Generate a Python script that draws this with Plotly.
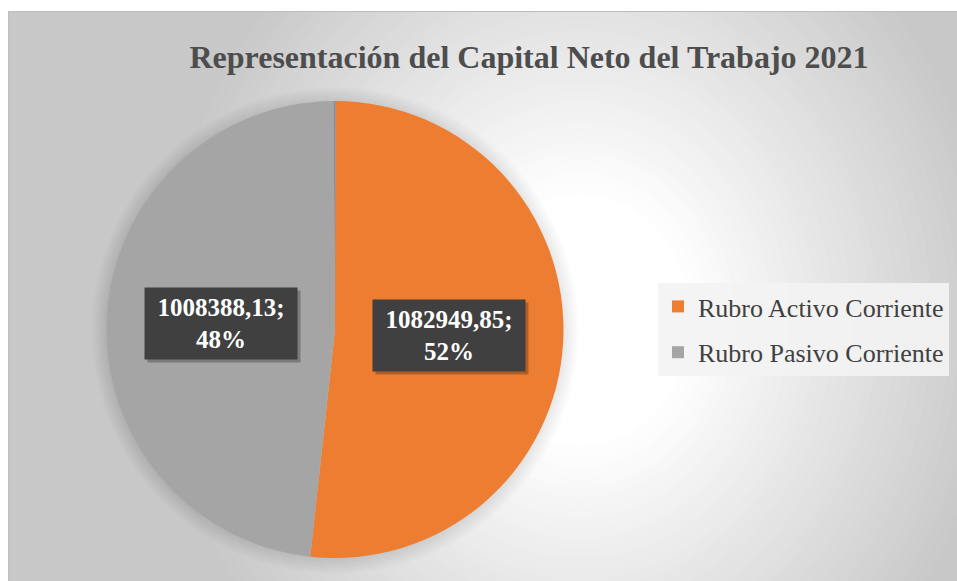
import math
import plotly.graph_objects as go

# ---------------- data ----------------
categories = ["Rubro Activo Corriente", "Rubro Pasivo Corriente"]
values = [1082949.85, 1008388.13]
colors = ["#ED7D31", "#A5A5A5"]
sliver_label = "Otro"
sliver_value = 2200          # tiny blue sliver at 12 o'clock
sliver_color = "#5B9BD5"
title_text = "Representación del Capital Neto del Trabajo 2021"

# ---------------- geometry helpers ----------------
W, H = 957, 581
def px(x):
    return x / W
def py(y):
    return 1 - y / H

PCX, PCY, R = 335.0, 329.5, 228.5   # pie centre / radius in pixels

shapes = []
# chart box base colour
shapes.append(dict(type="rect", xref="paper", yref="paper", layer="below",
                   x0=px(8), x1=px(990), y0=py(610), y1=py(11),
                   fillcolor="#c8c8c8", line=dict(width=0)))
# radial gradient (concentric ellipses)
gcx, gcy, ga, gb = 580.0, 320.0, 420.0, 480.0
def gcol(u):
    f = min(max((u - 0.25) / 0.75, 0.0), 1.0)
    c = int(round(255 - 55 * f))
    return f"rgb({c},{c},{c})"
steps = 40
for k in range(steps):
    u = 1.05 - k * (0.85 / steps)
    if u <= 0:
        break
    shapes.append(dict(type="circle", xref="paper", yref="paper", layer="below",
                       x0=px(gcx - u * ga), x1=px(gcx + u * ga),
                       y0=py(gcy + u * gb), y1=py(gcy - u * gb),
                       fillcolor=gcol(u - 0.85 / steps / 2), line=dict(width=0)))
# white strips outside the chart box (top and left)
shapes.append(dict(type="rect", xref="paper", yref="paper", layer="below",
                   x0=-0.05, x1=1.05, y0=py(11), y1=1.05,
                   fillcolor="white", line=dict(width=0)))
shapes.append(dict(type="rect", xref="paper", yref="paper", layer="below",
                   x0=-0.05, x1=px(8), y0=-0.05, y1=1.05,
                   fillcolor="white", line=dict(width=0)))
# chart box border
shapes.append(dict(type="rect", xref="paper", yref="paper", layer="below",
                   x0=px(8.5), x1=px(990), y0=py(610), y1=py(11.5),
                   fillcolor="rgba(0,0,0,0)", line=dict(width=1, color="#bdbdbd")))
# soft shadow round the pie
for d in [1, 3, 5, 7, 9, 11, 13, 15]:
    r = R + d
    shapes.append(dict(type="circle", xref="paper", yref="paper", layer="below",
                       x0=px(PCX - r), x1=px(PCX + r),
                       y0=py(PCY + r + 1), y1=py(PCY - r + 1),
                       fillcolor="rgba(0,0,0,0.011)", line=dict(width=0)))

# ---------------- traces ----------------
fig = go.Figure()
fig.add_trace(go.Pie(
    labels=categories + [sliver_label],
    values=values + [sliver_value],
    marker=dict(colors=colors + [sliver_color], line=dict(width=0)),
    sort=False, direction="clockwise", rotation=0,
    textinfo="none", hoverinfo="label+value+percent",
    showlegend=False,
    domain=dict(x=[px(PCX - R), px(PCX + R)], y=[py(PCY + R), py(PCY - R)]),
))

# legend entries
for cat, col in zip(categories, colors):
    fig.add_trace(go.Scatter(x=[None], y=[None], mode="markers", name=cat,
                             legendgroup=cat,
                             marker=dict(symbol="square", size=13, color=col)))

# ---------------- data labels (positioned from the slice angles) ----------------
annotations = []
total_all = sum(values) + sliver_value
total_main = sum(values)
cum = 0.0
FONT = "Liberation Serif, Times New Roman, serif"
for v in values:
    mid = (cum + v / 2) / total_all * 2 * math.pi
    cum += v
    lx = PCX + 0.5 * R * math.sin(mid)
    ly = PCY - 0.5 * R * math.cos(mid)
    pct = round(100 * v / total_main)
    txt = "<b>" + f"{v:.2f}".replace(".", ",") + f";<br>{pct}%</b>"
    common = dict(x=px(lx), y=py(ly), xref="paper", yref="paper",
                  showarrow=False, xanchor="center", yanchor="middle",
                  width=146, height=65, borderpad=3)
    # drop shadow box (no text)
    sh = dict(common)
    sh.update(text=" ", xshift=3, yshift=-3, bgcolor="rgba(0,0,0,0.25)",
              font=dict(family=FONT, size=25, color="rgba(0,0,0,0)"))
    annotations.append(sh)
    main = dict(common)
    main.update(text=txt, bgcolor="#404040",
                font=dict(family=FONT, size=25, color="white"))
    annotations.append(main)

fig.update_layout(
    width=W, height=H, autosize=False,
    margin=dict(l=0, r=0, t=0, b=0),
    paper_bgcolor="white", plot_bgcolor="rgba(0,0,0,0)",
    xaxis=dict(visible=False), yaxis=dict(visible=False),
    title=dict(text="<b>" + title_text + "</b>", x=529 / W, xanchor="center",
               y=py(57), yanchor="middle",
               font=dict(family=FONT, size=32, color="#4d4d4d")),
    legend=dict(x=px(658), xanchor="left", y=py(329.5), yanchor="middle",
                bgcolor="rgba(243,243,243,0.9)", borderwidth=0,
                tracegroupgap=9, itemsizing="constant",
                font=dict(family=FONT, size=26, color="#404040")),
    shapes=shapes,
    annotations=annotations,
)

fig.write_html(
    "out.html",
    config={"displayModeBar": False},
    post_script="document.body.style.margin='0';document.body.style.overflow='hidden';",
)
